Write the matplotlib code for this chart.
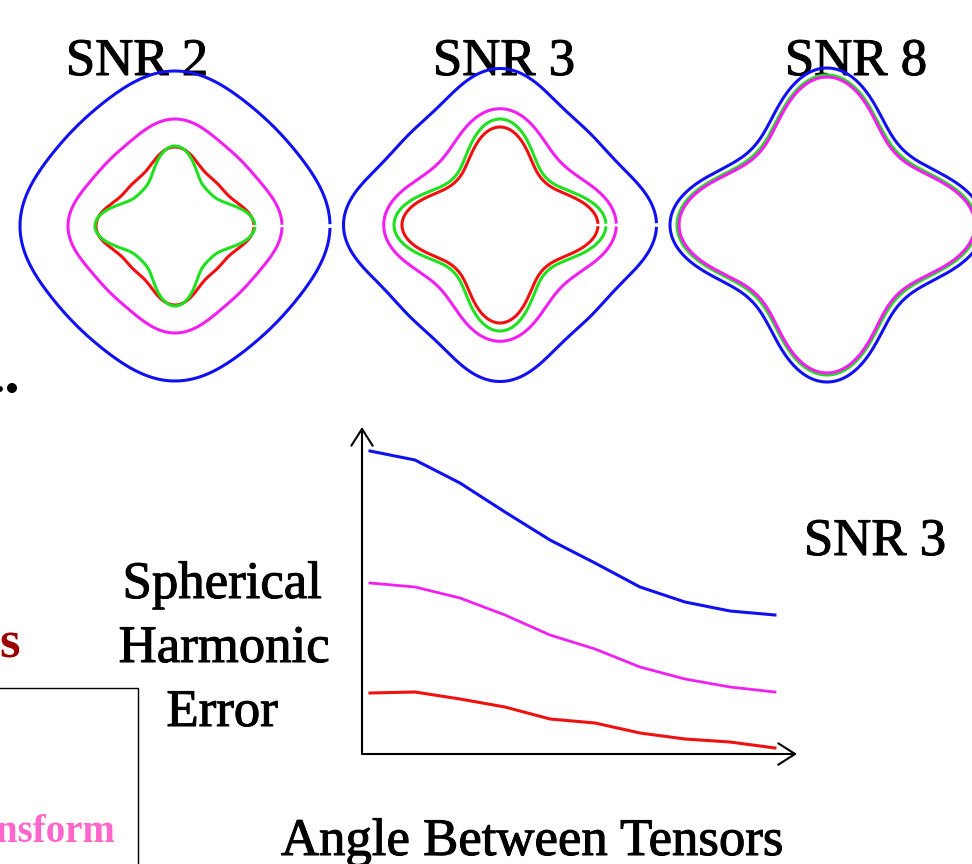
import numpy as np
import matplotlib
matplotlib.use("Agg")
import matplotlib.pyplot as plt
from matplotlib.patches import Rectangle, Circle
import matplotlib.patheffects as pe

# ---------------- data ----------------
# Angle between tensors (degrees) and spherical-harmonic error curves (SNR 3)
angles = [0, 10, 20, 30, 40, 50, 60, 70, 80, 90]
err_blue = [3.03, 2.94, 2.71, 2.42, 2.14, 1.91, 1.67, 1.52, 1.43, 1.39]
err_magenta = [1.71, 1.67, 1.56, 1.39, 1.19, 1.05, 0.87, 0.75, 0.67, 0.62]
err_red = [0.61, 0.62, 0.55, 0.47, 0.35, 0.31, 0.21, 0.15, 0.12, 0.06]

# Glyph spherical-harmonic coefficients (c0, c4, c8) per SNR panel
snr_titles = ["SNR 2", "SNR 3", "SNR 8"]
glyph_red = [(67.25, 9.5, 2.25), (78.0, 18.0, 2.0), (121.75, 24.5, 2.25)]
glyph_green = [(61.0, 16.0, 3.0), (84.0, 20.0, 2.0), (123.25, 24.5, 2.25)]
glyph_magenta = [(99.0, 7.0, 1.0), (101.0, 14.5, 0.8), (121.25, 24.5, 2.25)]
glyph_blue = [(146.75, 7.5, 0.75), (140.0, 14.0, 2.5), (130.0, 25.0, 2.0)]

# ---------------- layout ----------------
W, H = 972, 864
fig = plt.figure(figsize=(W / 100, H / 100), dpi=100)
fig.patch.set_facecolor("white")
SERIF = ["Liberation Serif", "DejaVu Serif"]
HEAVY = [pe.withStroke(linewidth=0.75, foreground="black")]

ax_bg = fig.add_axes([0, 0, 1, 1])
ax_bg.set_xlim(0, W)
ax_bg.set_ylim(H, 0)
ax_bg.axis("off")

BLUE = "#1010f0"
MAGENTA = "#f020f0"
GREEN = "#20e020"
RED = "#f01010"

# glyph panels
centers = [(175, 226), (500, 225), (827, 225)]
title_x = [137, 504, 856]
HALF = 175
theta = np.linspace(0.012, 2 * np.pi - 0.012, 721)
for i, (cx, cy) in enumerate(centers):
    ax = fig.add_axes([(cx - HALF) / W, (H - cy - HALF) / H, 2 * HALF / W, 2 * HALF / H])
    ax.set_xlim(-HALF, HALF)
    ax.set_ylim(-HALF, HALF)
    ax.axis("off")
    for coeffs, col in [(glyph_red[i], RED), (glyph_green[i], GREEN),
                        (glyph_magenta[i], MAGENTA), (glyph_blue[i], BLUE)]:
        c0, c4, c8 = coeffs
        r = c0 + c4 * np.cos(4 * theta) + c8 * np.cos(8 * theta)
        ax.plot(r * np.cos(theta), r * np.sin(theta), color=col, lw=2.2,
                solid_capstyle="butt")
    ax_bg.text(title_x[i], 75, snr_titles[i], ha="center", va="baseline",
               fontsize=38, family=SERIF, color="black", zorder=5,
               path_effects=HEAVY)

# line chart axes
x0, x1, y0, y1 = 362, 797, 427, 754
axl = fig.add_axes([x0 / W, (H - y1) / H, (x1 - x0) / W, (y1 - y0) / H])
axl.set_xlim(-1.78, 94.9)
axl.set_ylim(0, 3.27)
axl.axis("off")
axl.plot(angles, err_blue, color=BLUE, lw=2.2)
axl.plot(angles, err_magenta, color=MAGENTA, lw=2.0)
axl.plot(angles, err_red, color=RED, lw=2.2)
arrow_kw = dict(arrowstyle="->,head_length=0.55,head_width=0.35", lw=1.5,
                color="black", mutation_scale=22, shrinkA=0, shrinkB=0)
axl.annotate("", xy=(1, 0), xytext=(0, 0), xycoords="axes fraction",
             textcoords="axes fraction", arrowprops=arrow_kw, annotation_clip=False)
axl.annotate("", xy=(0, 1), xytext=(0, 0), xycoords="axes fraction",
             textcoords="axes fraction", arrowprops=arrow_kw, annotation_clip=False)

# texts
tkw = dict(ha="center", va="baseline", fontsize=38, family=SERIF, path_effects=HEAVY)
ax_bg.text(222, 598, "Spherical", **tkw)
ax_bg.text(224, 662, "Harmonic", **tkw)
ax_bg.text(222, 726, "Error", **tkw)
ax_bg.text(875, 555, "SNR 3", **tkw)
ax_bg.text(532, 855, "Angle Between Tensors", **tkw)

# fragments of neighbouring slide content
ax_bg.text(-1, 658, "s", ha="left", va="baseline", fontsize=38, family=SERIF,
           weight="bold", color="#990000")
ax_bg.text(115, 842, "nsform", ha="right", va="baseline", fontsize=28, family=SERIF,
           weight="bold", color="#ff66cc")
ax_bg.add_patch(Circle((0, 389), 2.2, color="black"))
ax_bg.add_patch(Circle((12, 388), 4.3, color="black"))
ax_bg.add_patch(Rectangle((-10, 688), 148, 200, fill=False, edgecolor="black", lw=1.0))

fig.savefig("out.png", dpi=100, facecolor="white")
